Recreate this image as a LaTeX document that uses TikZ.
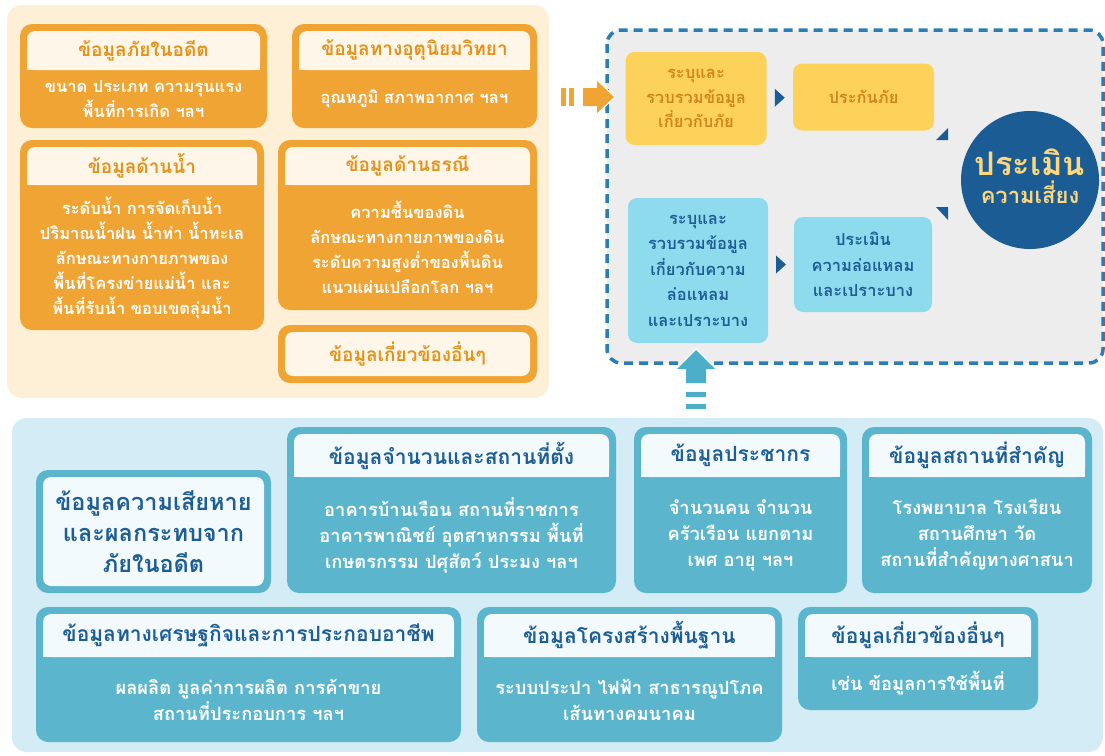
\documentclass[tikz,border=0pt]{standalone}
\usepackage{fontspec}
\setmainfont[Script=Thai]{Loma}
\usetikzlibrary{calc}
\definecolor{panelO}{HTML}{FDF0D6}
\definecolor{orangeC}{HTML}{F0A433}
\definecolor{creamT}{HTML}{FEF7E9}
\definecolor{titleO}{HTML}{E5921A}
\definecolor{yellowB}{HTML}{FDD25B}
\definecolor{yellowT}{HTML}{D0871A}
\definecolor{grayBG}{HTML}{EDEDED}
\definecolor{dashB}{HTML}{2B7DB3}
\definecolor{cyanB}{HTML}{8EDBEE}
\definecolor{blueT}{HTML}{1E5E94}
\definecolor{circB}{HTML}{1C5C95}
\definecolor{circT}{HTML}{FCD77C}
\definecolor{tealA}{HTML}{4DAEC9}
\definecolor{panelB}{HTML}{D3ECF6}
\definecolor{tealB}{HTML}{5BB6CD}
\definecolor{bandB}{HTML}{F3FAFD}
\tikzset{
  otitle/.style={inner sep=0pt, align=center, text=titleO, font=\fontsize{19}{24}\selectfont\bfseries},
  obody/.style={inner sep=0pt, align=center, text=white, font=\fontsize{16.5}{25}\selectfont\bfseries},
  ttitle/.style={inner sep=0pt, align=center, text=blueT, font=\fontsize{21}{26}\selectfont\bfseries},
  tbody/.style={inner sep=0pt, align=center, text=white, font=\fontsize{18.3}{26}\selectfont\bfseries},
  ybox/.style={fill=yellowB, rounded corners=9pt, inner sep=0pt, align=center, text=yellowT, font=\fontsize{16.5}{24.5}\selectfont\bfseries},
  cbox/.style={fill=cyanB, rounded corners=9pt, inner sep=0pt, align=center, text=blueT, font=\fontsize{16.5}{25.5}\selectfont\bfseries},
  tri/.style={fill=circB},
  halo/.style={draw=white, line width=2.5pt, line join=miter}
}
% orange box with title band
\newcommand\obox[8]{%
  \fill[orangeC,rounded corners=12pt] (#2,#3) rectangle (#4,#5);
  \fill[creamT,rounded corners=8pt] ({#2+7},{#3+7}) rectangle ({#4-7},#6);
  \fill[creamT] ({#2+7},{#6-10}) rectangle ({#4-7},#6);
  \node[otitle] (#1t) at ({(#2+#4)/2},{(#3+7+#6)/2}) {#7};
  \node[obody] (#1) at ({(#2+#4)/2},{(#6+#5)/2}) {#8};
}
% teal box with title band
\newcommand\tbox[8]{%
  \fill[tealB,rounded corners=12pt] (#2,#3) rectangle (#4,#5);
  \fill[bandB,rounded corners=8pt] ({#2+7},{#3+7}) rectangle ({#4-7},#6);
  \fill[bandB] ({#2+7},{#6-10}) rectangle ({#4-7},#6);
  \node[ttitle] (#1t) at ({(#2+#4)/2},{(#3+7+#6)/2}) {#7};
  \node[tbody] (#1) at ({(#2+#4)/2},{(#6+#5)/2}) {#8};
}
\begin{document}
\begin{tikzpicture}[x=1pt,y=-1pt]
\useasboundingbox (0,0) rectangle (1105,755);
\fill[white] (0,0) rectangle (1105,755);

% ---------- top-left panel ----------
\fill[panelO,rounded corners=15pt] (7,5) rectangle (549,398);
\obox{past}{20}{24}{267}{128}{70}{ข้อมูลภัยในอดีต}{ขนาด ประเภท ความรุนแรง\\พื้นที่การเกิด ฯลฯ}
\obox{meteo}{292}{24}{537}{128}{70}{ข้อมูลทางอุตุนิยมวิทยา}{อุณหภูมิ สภาพอากาศ ฯลฯ}
\obox{water}{20}{140}{264}{330}{185}{ข้อมูลด้านน้ำ}{ระดับน้ำ การจัดเก็บน้ำ\\ปริมาณน้ำฝน น้ำท่า น้ำทะเล\\ลักษณะทางกายภาพของ\\พื้นที่โครงข่ายแม่น้ำ และ\\พื้นที่รับน้ำ ขอบเขตลุ่มน้ำ}
\obox{geo}{278}{140}{537}{310}{185}{ข้อมูลด้านธรณี}{ความชื้นของดิน\\ลักษณะทางกายภาพของดิน\\ระดับความสูงต่ำของพื้นดิน\\แนวแผ่นเปลือกโลก ฯลฯ}
\fill[orangeC,rounded corners=12pt] (278,325) rectangle (537,383);
\fill[creamT,rounded corners=8pt] (285,332) rectangle (530,376);
\node[otitle] (otherO) at (407.5,354) {ข้อมูลเกี่ยวข้องอื่นๆ};

% ---------- bottom panel ----------
\fill[panelB,rounded corners=15pt] (12,418) rectangle (1103,752);
\fill[tealB,rounded corners=12pt] (36,470) rectangle (271,593);
\fill[bandB,rounded corners=8pt] (43,477) rectangle (264,586);
\node[ttitle, font=\fontsize{23.5}{31}\selectfont\bfseries] (loss) at (153.5,531.5) {ข้อมูลความเสียหาย\\และผลกระทบจาก\\ภัยในอดีต};
\tbox{build}{287}{427}{616}{593}{477}{ข้อมูลจำนวนและสถานที่ตั้ง}{อาคารบ้านเรือน สถานที่ราชการ\\อาคารพาณิชย์ อุตสาหกรรม พื้นที่\\เกษตรกรรม ปศุสัตว์ ประมง ฯลฯ}
\tbox{pop}{634}{427}{847}{593}{477}{ข้อมูลประชากร}{จำนวนคน จำนวน\\ครัวเรือน แยกตาม\\เพศ อายุ ฯลฯ}
\tbox{place}{862}{427}{1092}{593}{477}{ข้อมูลสถานที่สำคัญ}{โรงพยาบาล โรงเรียน\\สถานศึกษา วัด\\สถานที่สำคัญทางศาสนา}
\tbox{econ}{36}{607}{461}{742}{657}{ข้อมูลทางเศรษฐกิจและการประกอบอาชีพ}{ผลผลิต มูลค่าการผลิต การค้าขาย\\สถานที่ประกอบการ ฯลฯ}
\tbox{infra}{477}{607}{782}{742}{657}{ข้อมูลโครงสร้างพื้นฐาน}{ระบบประปา ไฟฟ้า สาธารณูปโภค\\เส้นทางคมนาคม}
\tbox{otherT}{798}{607}{1038}{710}{657}{ข้อมูลเกี่ยวข้องอื่นๆ}{เช่น ข้อมูลการใช้พื้นที่}

% ---------- dashed assessment frame ----------
\draw[fill=grayBG, draw=dashB, line width=3.5pt, dash pattern=on 9pt off 6pt, rounded corners=14pt] (607,30) rectangle (1103,363);

\node[ybox, minimum width=141pt, minimum height=93pt] (y1) at (696,98.5) {ระบุและ\\รวบรวมข้อมูล\\เกี่ยวกับภัย};
\node[ybox, minimum width=141pt, minimum height=67pt] (y2) at (863.5,97) {ประกันภัย};
\node[cbox, minimum width=140pt, minimum height=145pt] (c1) at (698,270.5) {ระบุและ\\รวบรวมข้อมูล\\เกี่ยวกับความ\\ล่อแหลม\\และเปราะบาง};
\node[cbox, minimum width=138pt, minimum height=95pt] (c2) at (863,264.5) {ประเมิน\\ความล่อแหลม\\และเปราะบาง};

\node[circle, fill=circB, minimum size=138pt, inner sep=0pt] (risk) at (1030,180) {};
\node[inner sep=0pt, text=circT, font=\fontsize{32.5}{36}\selectfont\bfseries] (riskA) at ($(risk)+(0,-18)$) {ประเมิน};
\node[inner sep=0pt, text=circT, font=\fontsize{22}{26}\selectfont\bfseries] (riskB) at ($(risk)+(0,12)$) {ความเสี่ยง};

% small arrowheads
\coordinate (m1) at ($(y1.east)!0.5!(y2.west)$);
\fill[tri] ($(m1)+(-5,-9)$) -- ($(m1)+(5,0)$) -- ($(m1)+(-5,9)$) -- cycle;
\coordinate (m2) at ($(c1.east |- c2.west)!0.5!(c2.west)$);
\fill[tri] ($(m2)+(-5,-9)$) -- ($(m2)+(5,0)$) -- ($(m2)+(-5,9)$) -- cycle;
\fill[tri] ($(risk)+(-94,-40)$) -- ($(risk)+(-82,-52)$) -- ($(risk)+(-82,-40)$) -- cycle;
\fill[tri] ($(risk)+(-94,27)$) -- ($(risk)+(-82,27)$) -- ($(risk)+(-82,40)$) -- cycle;

% ---------- big orange arrow: panel -> frame ----------
\coordinate (oa) at (583,97);
\fill[orangeC] (561,88) rectangle (566,106);
\fill[orangeC] (569,88) rectangle (574,106);
\filldraw[orangeC, halo] (oa) ++(0,-9) -- ++(14,0) -- ++(0,-7) -- ++(17,16) -- ++(-17,16) -- ++(0,-7) -- ++(-14,0) -- cycle;
\fill[orangeC] (oa) ++(0,-9) -- ++(14,0) -- ++(0,-7) -- ++(17,16) -- ++(-17,16) -- ++(0,-7) -- ++(-14,0) -- cycle;

% ---------- up arrow: bottom panel -> c1 ----------
\coordinate (ua) at (c1.south);
\fill[tealA] (686,392) rectangle (706,397);
\fill[tealA] (686,404) rectangle (706,409);
\filldraw[tealA, halo] (686,383) -- (686,369) -- (677,369) -- (696,350) -- (715,369) -- (706,369) -- (706,383) -- cycle;
\fill[tealA] (686,383) -- (686,369) -- (677,369) -- (696,350) -- (715,369) -- (706,369) -- (706,383) -- cycle;
\end{tikzpicture}
\end{document}
